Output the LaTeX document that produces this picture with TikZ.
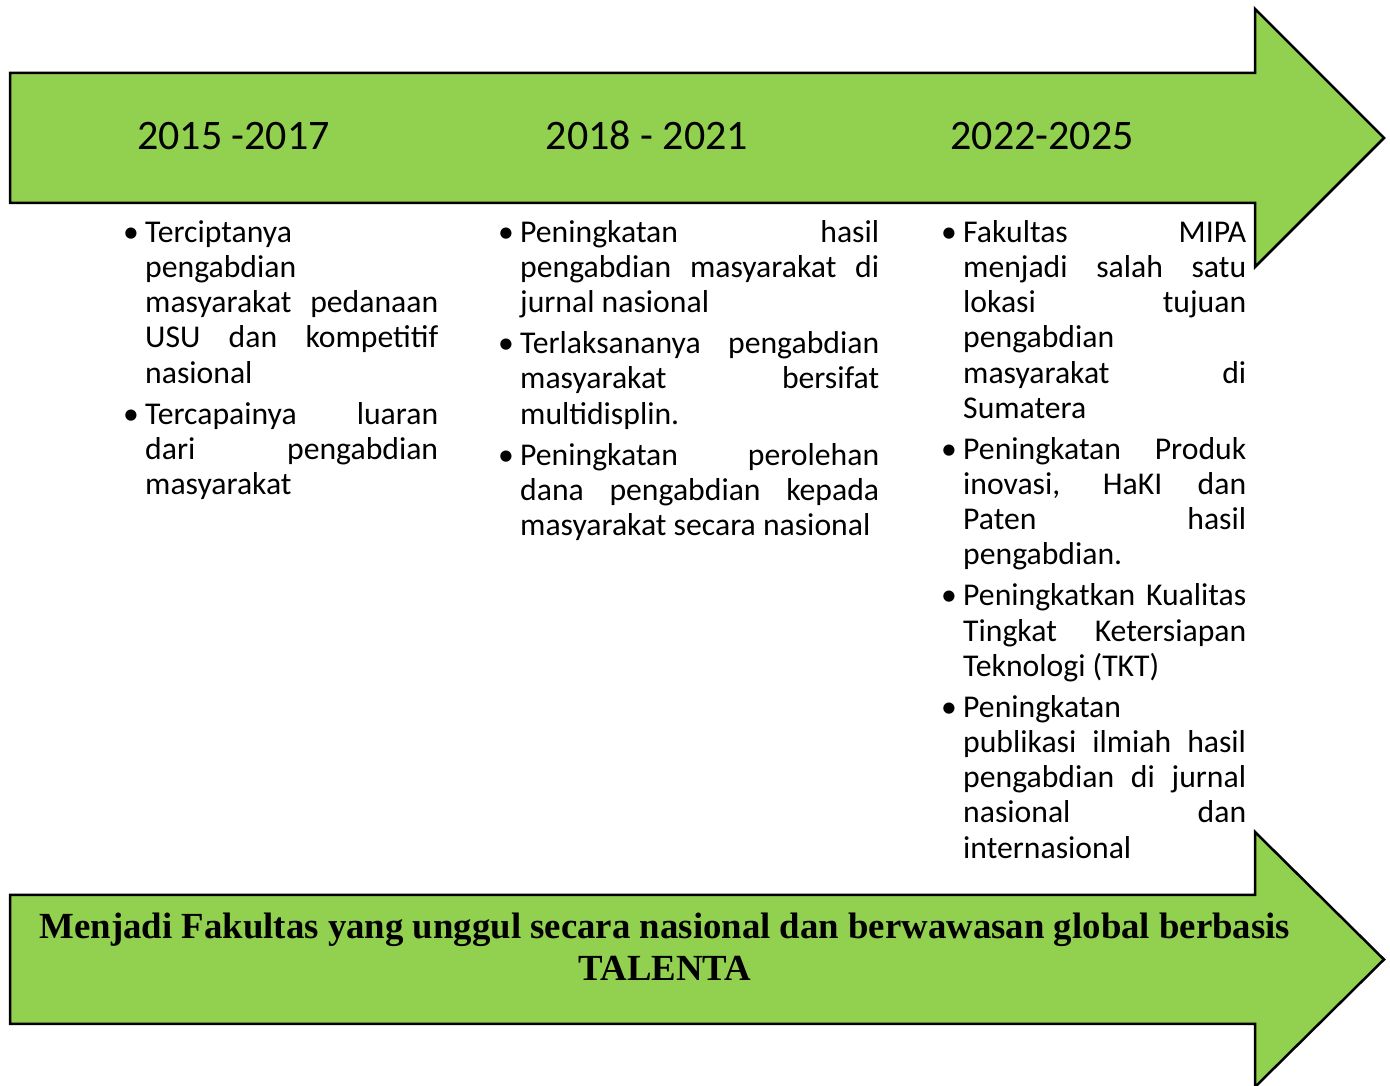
\documentclass[tikz,border=0pt]{standalone}
\usepackage{fontspec}
\setmainfont{Carlito}
\newfontfamily\visifont{Liberation Serif}
\definecolor{hijau}{HTML}{92D050}
\newcommand{\aturisi}{\hyphenpenalty=10000 \tolerance=10000 \hbadness=10000 \parskip=5.8pt\relax}
\newcommand{\butir}[1]{\hangindent=22pt\hangafter=1\noindent\makebox[22pt][l]{\textbullet}#1\par}

\begin{document}
\begin{tikzpicture}[x=1pt,y=1pt,
    panah/.style={draw=black, line width=2.5pt, fill=hijau},
    tahun/.style={anchor=base, font=\fontsize{42}{50}\selectfont},
    isi/.style={anchor=north west, inner sep=0pt, align=justify,
        font=\fontsize{31.7}{35.2}\selectfont},
    visi/.style={anchor=north, inner sep=0pt, align=center,
        font=\visifont\bfseries\fontsize{36.8}{42}\selectfont}]
    \useasboundingbox (0,0) rectangle (1390,1086);
    \draw[panah] (10,1013) -- (1255,1013) -- (1255,1077) -- (1384,948) -- (1255,819) -- (1255,883) -- (10,883) -- cycle;
    \draw[panah] (10,191) -- (1255,191) -- (1255,254) -- (1384,126.5) -- (1255,-1) -- (1255,62) -- (10,62) -- cycle;
    \node[tahun] (tahun1) at (233.5,936) {2015 -2017};
    \node[tahun] (tahun2) at (647,936) {2018 - 2021};
    \node[tahun] (tahun3) at (1042,936) {2022-2025};
    \node[isi, text width=315pt] (isi1) at (123,868.6) {\aturisi
        \butir{\strut Terciptanya\linebreak pengabdian\linebreak masyarakat pedanaan\linebreak USU dan kompetitif\linebreak nasional}
        \butir{Tercapainya luaran\linebreak dari pengabdian\linebreak masyarakat}};
    \node[isi, text width=381pt] (isi2) at (498,868.6) {\aturisi
        \butir{\strut Peningkatan hasil\linebreak pengabdian masyarakat di\linebreak jurnal nasional}
        \butir{Terlaksananya pengabdian\linebreak masyarakat bersifat\linebreak multidisplin.}
        \butir{Peningkatan perolehan\linebreak dana pengabdian kepada\linebreak masyarakat secara nasional}};
    \node[isi, text width=305pt] (isi3) at (941,868.6) {\aturisi
        \butir{\strut Fakultas MIPA\linebreak menjadi salah satu\linebreak lokasi tujuan\linebreak pengabdian\linebreak masyarakat di\linebreak Sumatera}
        \butir{Peningkatan Produk\linebreak inovasi, HaKI dan\linebreak Paten hasil\linebreak pengabdian.}
        \butir{Peningkatkan Kualitas\linebreak Tingkat Ketersiapan\linebreak Teknologi (TKT)}
        \butir{Peningkatan\linebreak publikasi ilmiah hasil\linebreak pengabdian di jurnal\linebreak nasional dan\linebreak internasional}};
    \node[visi] (visi) at (665,177.4) {\strut Menjadi Fakultas yang unggul secara nasional dan berwawasan global berbasis\\TALENTA};
\end{tikzpicture}
\end{document}
